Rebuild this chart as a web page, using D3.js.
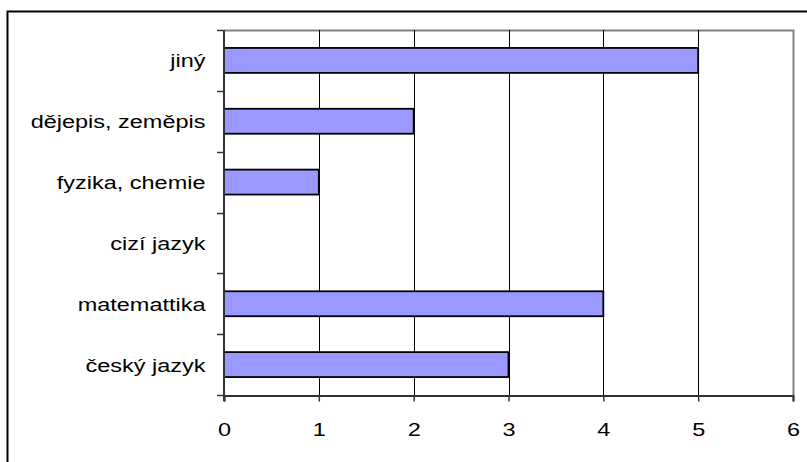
<!DOCTYPE html>
<html>
<head>
<meta charset="utf-8">
<script src="https://cdn.jsdelivr.net/npm/d3@7"></script>
<style>
  html, body { margin: 0; padding: 0; background: #fff; }
  svg { display: block; font-family: "Liberation Sans", Arial, sans-serif; }
</style>
</head>
<body>
<svg id="chart" width="807" height="462"></svg>
<script>
// Subjects, listed bottom to top as drawn on the vertical axis
const categories = ["český jazyk", "matemattika", "cizí jazyk", "fyzika, chemie", "dějepis, zeměpis", "jiný"];
const values = [3, 4, 0, 1, 2, 5];
const xTicks = [0, 1, 2, 3, 4, 5, 6];

const svg = d3.select("#chart");
const W = 807, H = 462;
const plot = { left: 224, right: 793, top: 30, bottom: 395 };
const fontSize = 18.5;   // glyph height
const stretch = 1.27;    // horizontal stretch of the text

// Outer frame
svg.append("rect")
  .attr("x", 7.5).attr("y", 11.5)
  .attr("width", W + 10).attr("height", H + 10)
  .attr("fill", "#fff").attr("stroke", "#000").attr("stroke-width", 2);

const x = d3.scaleLinear().domain([0, 6]).range([plot.left, plot.right]);
const y = d3.scaleBand()
  .domain(categories.slice().reverse())
  .range([plot.top, plot.bottom])
  .paddingInner(0.59).paddingOuter(0.295);
const yBand = d3.scaleBand()
  .domain(categories.slice().reverse())
  .range([plot.top, plot.bottom]);

// Plot area border (top and right in gray)
svg.append("path")
  .attr("d", `M${plot.left},${plot.top + 0.5}H${plot.right + 0.5}V${plot.bottom}`)
  .attr("fill", "none").attr("stroke", "#808080").attr("stroke-width", 2);

// Vertical gridlines
svg.append("g")
  .selectAll("line")
  .data(xTicks.filter(t => t > 0 && t < 6))
  .join("line")
  .attr("x1", d => Math.round(x(d)) + 0.5).attr("x2", d => Math.round(x(d)) + 0.5)
  .attr("y1", plot.top).attr("y2", plot.bottom)
  .attr("stroke", "#000").attr("stroke-width", 1);

// Bars
svg.append("g")
  .selectAll("rect")
  .data(categories.map((c, i) => ({ c, v: values[i] })).filter(d => d.v > 0))
  .join("rect")
  .attr("x", x(0))
  .attr("y", d => y(d.c))
  .attr("width", d => x(d.v) - x(0))
  .attr("height", y.bandwidth())
  .attr("fill", "#9999FF")
  .attr("stroke", "#000").attr("stroke-width", 1.8);

// Horizontal axis
const xAxis = svg.append("g")
  .attr("transform", `translate(0,${plot.bottom + 0.5})`)
  .call(d3.axisBottom(x).tickValues(xTicks).tickFormat(d3.format("d")).tickSize(6));
xAxis.select(".domain").attr("stroke", "#333").attr("stroke-width", 2);
xAxis.selectAll(".tick line").attr("stroke", "#333").attr("stroke-width", 1.5);
xAxis.selectAll(".tick text")
  .attr("y", null).attr("dy", null)
  .attr("transform", `translate(0,40.5) scale(${stretch},1)`)
  .attr("font-size", fontSize + "px").attr("fill", "#000")
  .attr("font-family", "'Liberation Sans', Arial, sans-serif");

// Vertical axis with ticks on category boundaries
const yAxisG = svg.append("g");
yAxisG.append("line")
  .attr("x1", plot.left).attr("x2", plot.left)
  .attr("y1", plot.top).attr("y2", plot.bottom + 6)
  .attr("stroke", "#333").attr("stroke-width", 2);
const bounds = yBand.domain().map(c => yBand(c)).concat([plot.bottom]);
yAxisG.selectAll("line.tk")
  .data(bounds)
  .join("line").attr("class", "tk")
  .attr("x1", plot.left - 7).attr("x2", plot.left)
  .attr("y1", d => Math.round(d) + 0.5).attr("y2", d => Math.round(d) + 0.5)
  .attr("stroke", "#333").attr("stroke-width", 1.5);
yAxisG.selectAll("text")
  .data(categories)
  .join("text")
  .attr("transform", d => `translate(205.5,${yBand(d) + yBand.bandwidth() / 2 + 7}) scale(${stretch},1)`)
  .attr("text-anchor", "end")
  .attr("font-size", fontSize + "px")
  .attr("fill", "#000")
  .text(d => d);
</script>
</body>
</html>
